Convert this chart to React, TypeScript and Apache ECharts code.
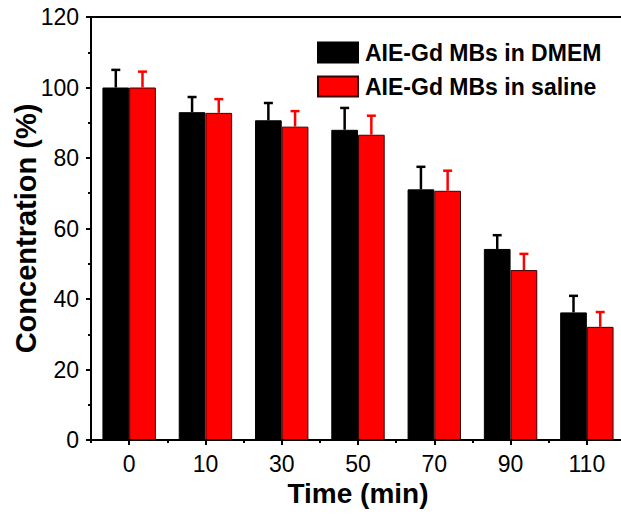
import React, { useEffect, useRef } from "react";
import * as echarts from "echarts";

const categories = ["0", "10", "30", "50", "70", "90", "110"];
const dmemValues = [100, 93.0, 90.7, 88.0, 71.1, 54.2, 36.2];
const dmemErrors = [5.0, 4.3, 4.9, 6.2, 6.4, 3.9, 4.7];
const salineValues = [100, 92.8, 88.9, 86.6, 70.7, 48.2, 32.1];
const salineErrors = [4.5, 3.9, 4.4, 5.4, 5.7, 4.6, 4.2];
const seriesNames = ["AIE-Gd MBs in DMEM", "AIE-Gd MBs in saline"];

const FONT = "Arial, 'Liberation Sans', Helvetica, sans-serif";

function errorSeries(values: number[], errors: number[], color: string, side: number) {
  return {
    type: "custom",
    coordinateSystem: "cartesian2d",
    xAxisIndex: 0,
    yAxisIndex: 0,
    silent: true,
    z: 5,
    encode: { x: 0, y: 1 },
    data: values.map((v, i) => [i, v, errors[i]]),
    renderItem: (params: any, api: any) => {
      const idx = api.value(0);
      const v = api.value(1);
      const e = api.value(2);
      const band = api.size([1, 0])[0];
      const off = side * band * 0.175;
      const p0 = api.coord([idx, v]);
      const p1 = api.coord([idx, v + e]);
      const x = p0[0] + off;
      const cap = 4.5;
      return {
        type: "group",
        children: [
          {
            type: "line",
            shape: { x1: x, y1: p0[1], x2: x, y2: p1[1] },
            style: { stroke: color, lineWidth: 2.5 },
          },
          {
            type: "line",
            shape: { x1: x - cap, y1: p1[1], x2: x + cap, y2: p1[1] },
            style: { stroke: color, lineWidth: 2.5 },
          },
        ],
      };
    },
  };
}

export default function App() {
  const ref = useRef<HTMLDivElement>(null);
  useEffect(() => {
    if (!ref.current) return;
    const chart = echarts.init(ref.current, null, { renderer: "svg" });
    chart.setOption({
      animation: false,
      backgroundColor: "#fff",
      textStyle: { fontFamily: FONT },
      grid: {
        left: 91,
        top: 17,
        right: -4,
        bottom: 80,
        outerBoundsMode: "none",
        containLabel: false,
        show: true,
        borderColor: "#000",
        borderWidth: 2,
        backgroundColor: "transparent",
      },
      legend: {
        orient: "vertical",
        left: 317,
        top: 40,
        padding: 0,
        itemWidth: 40,
        itemHeight: 20,
        itemGap: 9,
        icon: "rect",
        selectedMode: false,
        data: seriesNames,
        textStyle: {
          fontFamily: FONT,
          fontSize: 23,
          fontWeight: "bold",
          color: "#000",
          lineHeight: 20,
          padding: [0, 0, 5, 2],
        },
      },
      xAxis: [
        {
          type: "category",
          data: categories,
          position: "bottom",
          axisLine: { show: true, lineStyle: { color: "#000", width: 2 } },
          axisTick: { show: true, alignWithLabel: true, length: 5, lineStyle: { color: "#000", width: 2 } },
          axisLabel: { fontSize: 23, color: "#000", margin: 12, fontFamily: FONT },
          splitLine: { show: false },
          name: "Time (min)",
          nameLocation: "middle",
          nameGap: 39,
          nameMoveOverlap: false,
          nameTextStyle: { fontSize: 28, fontWeight: "bold", color: "#000", fontFamily: FONT },
        },
        {
          type: "category",
          data: categories,
          position: "bottom",
          axisLine: { show: false },
          axisTick: { show: true, alignWithLabel: false, length: 3, lineStyle: { color: "#000", width: 2 } },
          axisLabel: { show: false },
          splitLine: { show: false },
        },
      ],
      yAxis: {
        type: "value",
        min: 0,
        max: 120,
        interval: 20,
        axisLine: { show: true, lineStyle: { color: "#000", width: 2 } },
        axisTick: { show: true, length: 5, lineStyle: { color: "#000", width: 2 } },
        minorTick: { show: true, splitNumber: 2, length: 3, lineStyle: { color: "#000", width: 2 } },
        axisLabel: { fontSize: 23, color: "#000", margin: 12, fontFamily: FONT },
        splitLine: { show: false },
        name: "Concentration (%)",
        nameLocation: "middle",
        nameGap: 51,
        nameRotate: 90,
        nameMoveOverlap: false,
        nameTextStyle: { fontSize: 29, fontWeight: "bold", color: "#000", fontFamily: FONT },
      },
      series: [
        {
          name: seriesNames[0],
          type: "bar",
          xAxisIndex: 0,
          data: dmemValues,
          barGap: "0%",
          barCategoryGap: "30%",
          itemStyle: { color: "#000000", borderColor: "#000", borderWidth: 1 },
          z: 2,
        },
        {
          name: seriesNames[1],
          type: "bar",
          xAxisIndex: 0,
          data: salineValues,
          barGap: "0%",
          barCategoryGap: "30%",
          itemStyle: { color: "#ff0000", borderColor: "#3a0000", borderWidth: 1 },
          z: 2,
        },
        errorSeries(dmemValues, dmemErrors, "#000000", -1),
        errorSeries(salineValues, salineErrors, "#ff0000", 1),
      ],
    });
    return () => chart.dispose();
  }, []);
  return (
    <div
      ref={ref}
      style={{ position: "fixed", left: 0, top: 0, width: 621, height: 520 }}
    />
  );
}
